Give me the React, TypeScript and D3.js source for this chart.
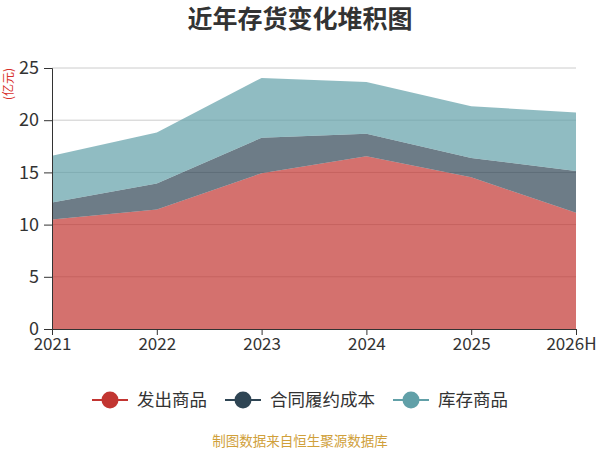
import * as d3 from "d3";
import { useEffect, useRef } from "react";

const years = ["2021", "2022", "2023", "2024", "2025", "2026H"];
const seriesNames = ["发出商品", "合同履约成本", "库存商品"];
const shipped = [10.5, 11.45, 14.92, 16.54, 14.54, 11.13];
const contractCost = [1.62, 2.48, 3.4, 2.16, 1.84, 4.01];
const stockGoods = [4.48, 4.9, 5.73, 4.96, 4.96, 5.6];
const colors = ["#c23531", "#2f4554", "#61a0a8"];
const yTicks = [0, 5, 10, 15, 20, 25];

const FONT = "'Noto Sans CJK SC', 'Noto Sans', sans-serif";

const App = () => {
    const svgRef = useRef<SVGSVGElement>(null);

    const width = 600;
    const height = 450;
    const margin = { top: 68, right: 24, bottom: 121, left: 52 };
    const innerWidth = width - margin.left - margin.right;
    const innerHeight = height - margin.top - margin.bottom;

    useEffect(() => {
        const svg = d3.select(svgRef.current);
        svg.selectAll("*").remove();

        // title
        svg.append("text")
            .attr("x", width / 2)
            .attr("y", 28)
            .attr("text-anchor", "middle")
            .attr("font-family", FONT)
            .attr("font-size", 25)
            .attr("font-weight", "bold")
            .attr("fill", "#333")
            .text("近年存货变化堆积图");

        // unit label
        svg.append("text")
            .attr("transform", "translate(13,84) rotate(-90)")
            .attr("text-anchor", "middle")
            .attr("font-family", FONT)
            .attr("font-size", 12)
            .attr("fill", "#d8312c")
            .text("(亿元)");

        const g = svg.append("g")
            .attr("transform", `translate(${margin.left},${margin.top})`);

        const xScale = d3.scalePoint<string>()
            .domain(years)
            .range([0, innerWidth]);

        const yScale = d3.scaleLinear()
            .domain([0, 25])
            .range([innerHeight, 0]);

        // grid lines
        g.append("g")
            .selectAll("line")
            .data(yTicks.filter(d => d > 0))
            .join("line")
            .attr("x1", 0)
            .attr("x2", innerWidth)
            .attr("y1", d => yScale(d))
            .attr("y2", d => yScale(d))
            .attr("stroke", "#ccc")
            .attr("stroke-width", 1);

        // stacked areas
        const rows = years.map((y, i) => ({
            year: y,
            a: shipped[i],
            b: contractCost[i],
            c: stockGoods[i],
        }));
        const stack = d3.stack<any>().keys(["a", "b", "c"]);
        const layers = stack(rows);

        const area = d3.area<any>()
            .x(d => xScale(d.data.year)!)
            .y0(d => yScale(d[0]))
            .y1(d => yScale(d[1]));

        g.append("g")
            .selectAll("path")
            .data(layers)
            .join("path")
            .attr("d", area)
            .attr("fill", (_, i) => colors[i])
            .attr("fill-opacity", 0.7);

        // y axis
        const yAxis = g.append("g")
            .call(d3.axisLeft(yScale).tickValues(yTicks).tickSize(8).tickPadding(5));
        yAxis.select(".domain").attr("stroke", "#333");
        yAxis.selectAll(".tick line").attr("stroke", "#333");
        yAxis.selectAll("text")
            .attr("font-family", FONT)
            .attr("font-size", 18)
            .attr("fill", "#333");

        // x axis
        const xAxis = g.append("g")
            .attr("transform", `translate(0,${innerHeight})`)
            .call(d3.axisBottom(xScale).tickSizeOuter(0).tickSize(6).tickPadding(3));
        xAxis.select(".domain").attr("stroke", "#333");
        xAxis.selectAll(".tick line").attr("stroke", "#333");
        xAxis.selectAll("text")
            .attr("font-family", FONT)
            .attr("font-size", 17)
            .attr("fill", "#333")
            // last label sits a little inside the edge, as in the original
            .attr("dx", (_, i) => (i === years.length - 1 ? -5 : 0));

        // legend
        const legendX = [110, 243, 411];
        const legend = svg.append("g")
            .selectAll("g")
            .data(seriesNames)
            .join("g")
            .attr("transform", (_, i) => `translate(${legendX[i]},400)`);
        legend.append("line")
            .attr("x1", -18)
            .attr("x2", 18)
            .attr("stroke", (_, i) => colors[i])
            .attr("stroke-width", 2);
        legend.append("circle")
            .attr("r", 8.5)
            .attr("fill", (_, i) => colors[i]);
        legend.append("text")
            .attr("x", 27)
            .attr("dy", "0.35em")
            .attr("font-family", FONT)
            .attr("font-size", 17.5)
            .attr("fill", "#333")
            .text(d => d);

        // source note
        svg.append("text")
            .attr("x", 300)
            .attr("y", 446)
            .attr("text-anchor", "middle")
            .attr("font-family", FONT)
            .attr("font-size", 13.5)
            .attr("fill", "#d0a03a")
            .text("制图数据来自恒生聚源数据库");
    }, [innerHeight, innerWidth, margin.left, margin.top]);

    return (
        <svg ref={svgRef} width={width} height={height}
            style={{ position: "absolute", left: 0, top: 0, display: "block" }}>
        </svg>
    );
};

export default App;
